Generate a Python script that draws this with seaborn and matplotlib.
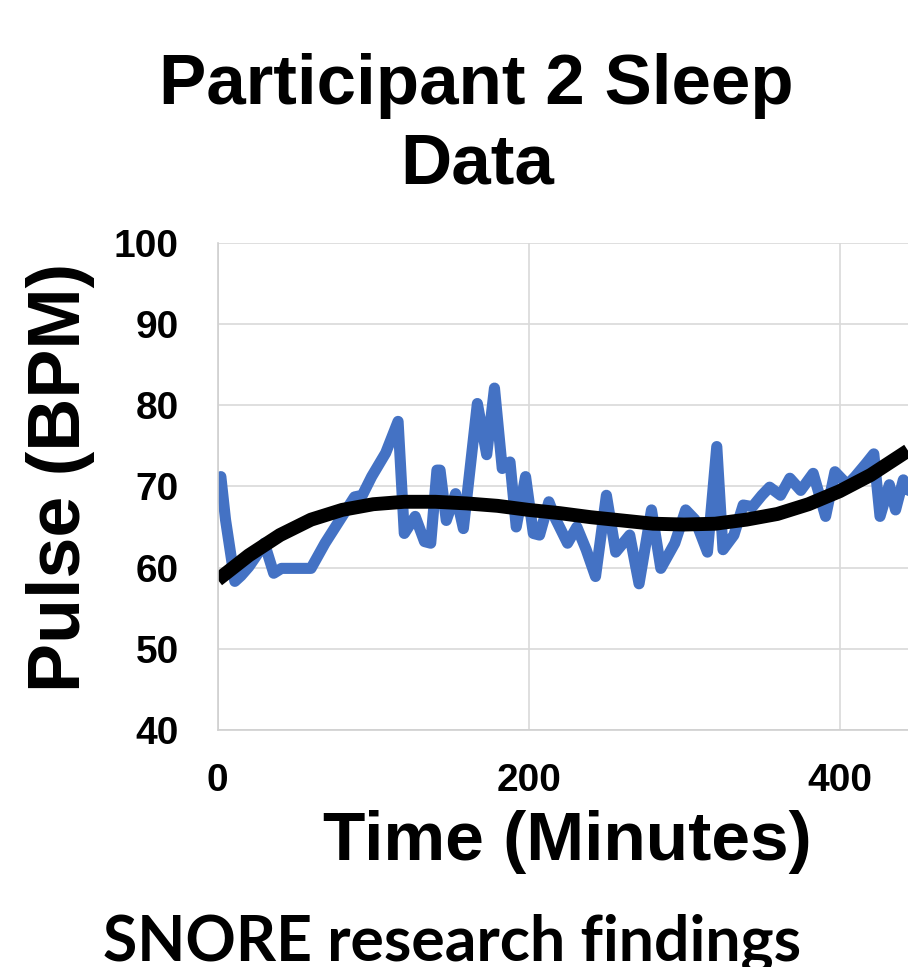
import matplotlib
matplotlib.use("Agg")
import matplotlib.pyplot as plt
import seaborn as sns
import pandas as pd

# pulse readings (minutes, bpm)
minutes = [2, 5, 11, 15, 20, 25, 30, 36, 41, 50, 60, 69, 75, 80, 88, 93, 99, 108,
           116, 120, 127, 133, 137, 141, 143, 147, 153, 158, 167, 173, 178, 183,
           188, 192, 198, 203, 207, 213, 217, 225, 231, 237, 243, 250, 256, 265,
           271, 279, 285, 294, 301, 307, 315, 321, 325, 332, 338, 344, 350, 355,
           362, 368, 375, 383, 391, 397, 405, 410, 417, 422, 426, 432, 436, 441, 446]
pulse = [71.2, 65.9, 58.3, 59.0, 60.1, 61.5, 63.0, 59.3, 59.9, 59.9, 59.9, 63.0,
         64.8, 66.3, 68.7, 68.9, 71.2, 74.1, 78.0, 64.2, 66.3, 63.2, 63.0, 72.0,
         72.0, 65.8, 69.1, 64.8, 80.2, 73.9, 82.1, 72.2, 73.0, 65.0, 71.2, 64.2,
         64.0, 68.1, 66.1, 63.0, 65.0, 62.2, 58.9, 68.9, 61.9, 64.0, 58.0, 67.1,
         59.9, 63.0, 67.1, 65.9, 61.9, 74.9, 62.2, 64.0, 67.7, 67.5, 68.9, 69.9,
         68.9, 71.0, 69.5, 71.6, 66.3, 71.8, 70.2, 71.2, 72.8, 74.0, 66.3, 70.2,
         67.1, 70.8, 69.0]

# polynomial trendline as drawn in the reference
trend_minutes = [0, 20, 40, 60, 80, 100, 120, 140, 160, 180, 200, 220, 240, 260,
                 280, 300, 320, 340, 360, 380, 400, 420, 444]
trend_pulse = [58.5, 61.5, 64.0, 65.9, 67.1, 67.8, 68.1, 68.1, 67.9, 67.6, 67.1,
               66.7, 66.2, 65.8, 65.4, 65.3, 65.4, 65.9, 66.6, 67.8, 69.4, 71.4, 74.4]

x_ticks = [0, 200, 400]
y_ticks = [40, 50, 60, 70, 80, 90, 100]

sns.set_style("white")
plt.rcParams['font.family'] = ['Liberation Sans', 'DejaVu Sans']
plt.rcParams['text.color'] = 'black'
plt.rcParams['xtick.color'] = 'black'
plt.rcParams['ytick.color'] = 'black'

df = pd.DataFrame({'Minutes': minutes, 'Pulse': pulse})
trend_df = pd.DataFrame({'Minutes': trend_minutes, 'Pulse': trend_pulse})

fig = plt.figure(figsize=(9.08, 9.67), dpi=100)
ax = fig.add_axes([0.2398, 0.2451, 0.7602, 0.5039])

sns.lineplot(data=df, x='Minutes', y='Pulse', ax=ax, color='#4472C4',
             linewidth=8, estimator=None, solid_joinstyle='round')
sns.lineplot(data=trend_df, x='Minutes', y='Pulse', ax=ax, color='black',
             linewidth=10, estimator=None, solid_capstyle='butt',
             solid_joinstyle='round')

ax.set_xlim(0, 444)
ax.set_ylim(40, 100)
ax.set_xticks(x_ticks)
ax.set_yticks(y_ticks)
ax.grid(True, color='#d9d9d9', linewidth=1.2)
ax.set_axisbelow(True)
for side in ['top', 'right']:
    ax.spines[side].set_visible(False)
for side in ['left', 'bottom']:
    ax.spines[side].set_color('#d0d0d0')
    ax.spines[side].set_linewidth(1.2)
ax.tick_params(axis='both', length=0, labelsize=28)
ax.tick_params(axis='y', pad=28)
ax.tick_params(axis='x', pad=24)
for lbl in ax.get_xticklabels() + ax.get_yticklabels():
    lbl.set_fontweight('bold')
ax.set_xlabel('')
ax.set_ylabel('')

# title: baseline of the last line
fig.text(0.525, 1 - 183 / 967, 'Participant 2 Sleep\nData', ha='center',
         va='baseline', fontsize=51, fontweight='bold', linespacing=1.26)
fig.text(61 / 908, 1 - 477 / 967, 'Pulse (BPM)', rotation=90, ha='center',
         va='center', fontsize=53, fontweight='bold')
fig.text(567 / 908, 1 - 842 / 967, 'Time (Minutes)', ha='center', va='center',
         fontsize=50, fontweight='bold')
fig.text(452 / 908, 1 - 960 / 967, 'SNORE research findings', ha='center',
         va='baseline', fontsize=45, fontweight='bold', family=['Lato', 'DejaVu Sans'])

plt.savefig('out.png', dpi=100)
